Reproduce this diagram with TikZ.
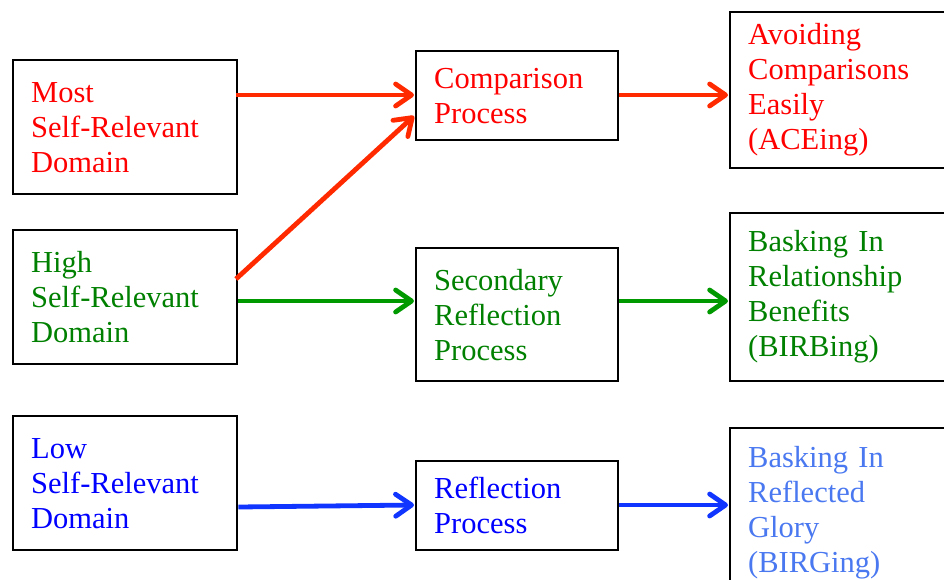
\documentclass[tikz,border=0pt]{standalone}
\usepackage{fontspec}
\setmainfont{Liberation Serif}
\usetikzlibrary{arrows.meta}
\definecolor{redtext}{HTML}{FF0000}
\definecolor{greentext}{HTML}{008000}
\definecolor{bluetext}{HTML}{0000FF}
\definecolor{lightbluetext}{HTML}{4A78F0}
\definecolor{redarrow}{HTML}{FF2A00}
\definecolor{greenarrow}{HTML}{009900}
\definecolor{bluearrow}{HTML}{1035FF}
\tikzset{
  boxnode/.style={draw=black, line width=2.4pt, rectangle, anchor=north west,
    inner xsep=18pt, inner ysep=0pt, align=left,
    font=\fontsize{30.5}{35}\selectfont},
  conn/.style={line width=4.8pt, -{Straight Barb[length=16pt,width=22pt,line cap=round,round]}},
}
\begin{document}
\begin{tikzpicture}[x=1pt,y=-1pt]
\useasboundingbox (0,0) rectangle (944,579);
\node[boxnode, text width=188pt, minimum height=134pt, text=redtext] (most) at (12,59) {Most\\Self-Relevant\\Domain};
\node[boxnode, text width=188pt, minimum height=134pt, text=greentext] (high) at (12,229) {High\\Self-Relevant\\Domain};
\node[boxnode, text width=188pt, minimum height=134pt, text=bluetext] (low) at (12,415) {Low\\Self-Relevant\\Domain};
\node[boxnode, text width=166pt, minimum height=89pt, text=redtext] (comp) at (415,50) {Comparison\\Process};
\node[boxnode, text width=166pt, minimum height=133pt, text=greentext] (sec) at (415,247) {Secondary\\Reflection\\Process};
\node[boxnode, text width=166pt, minimum height=89pt, text=bluetext] (refl) at (415,460) {Reflection\\Process};
\node[boxnode, text width=204pt, minimum height=156pt, text=redtext] (ace) at (729,11) {Avoiding\\Comparisons\\Easily\\(ACEing)};
\node[boxnode, text width=204pt, minimum height=168pt, text=greentext] (birb) at (729,212) {Basking In\\Relationship\\Benefits\\(BIRBing)};
\node[boxnode, text width=204pt, minimum height=168pt, text=lightbluetext] (birg) at (729,427) {Basking In\\Reflected\\Glory\\(BIRGing)};
\coordinate (mostout) at (236,95);
\coordinate (compin) at (414,95);
\coordinate (highup) at (236,279);
\coordinate (compin2) at (414,116);
\draw[conn, redarrow] (mostout) -- (compin);
\draw[conn, redarrow] (highup) -- (compin2);
\draw[conn, greenarrow] (high.east |- 0,301) -- ([xshift=-1pt]sec.west |- 0,301);
\draw[conn, redarrow] (comp.east |- 0,95) -- ([xshift=-1pt]ace.west |- 0,95);
\draw[conn, greenarrow] (sec.east |- 0,301) -- ([xshift=-1pt]birb.west |- 0,301);
\draw[conn, bluearrow] (low.east |- 0,507) -- ([xshift=-1pt]refl.west |- 0,505);
\draw[conn, bluearrow] (refl.east |- 0,505) -- ([xshift=-1pt]birg.west |- 0,505);
\end{tikzpicture}
\end{document}
